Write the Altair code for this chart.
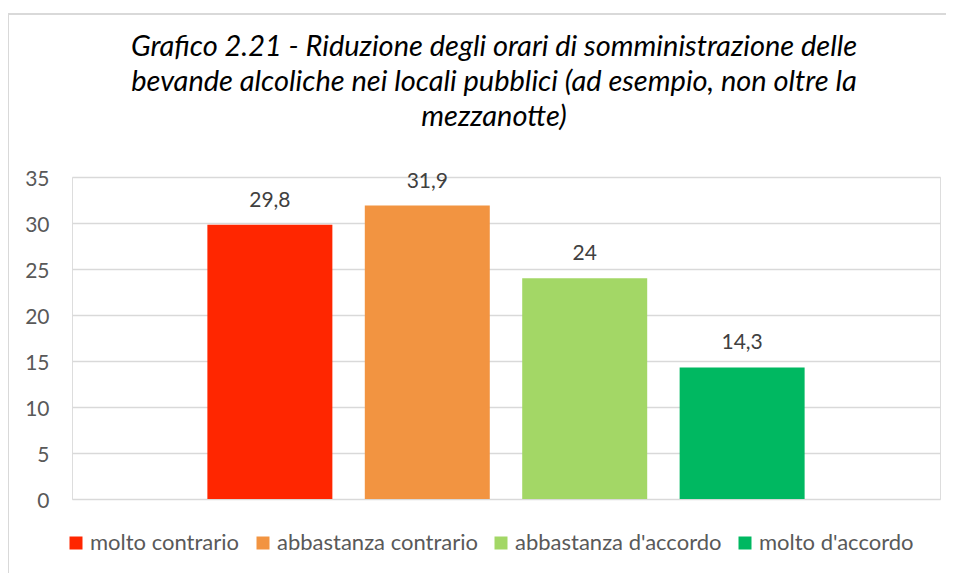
import altair as alt
import pandas as pd

categories = ["molto contrario", "abbastanza contrario", "abbastanza d'accordo", "molto d'accordo"]
values = [29.8, 31.9, 24, 14.3]
colors = ["#FF2600", "#F29441", "#A3D766", "#00B861"]
y_ticks = [0, 5, 10, 15, 20, 25, 30, 35]
title_lines = [
    "Grafico 2.21 - Riduzione degli orari di somministrazione delle",
    "bevande alcoliche nei locali pubblici (ad esempio, non oltre la",
    "mezzanotte)",
]

df = pd.DataFrame({"cat": categories, "val": values})
FONT = "Lato"

x_enc = alt.X("cat:N", sort=categories, axis=None,
              scale=alt.Scale(paddingInner=0.206, paddingOuter=0.86))

bars = alt.Chart(df).mark_bar().encode(
    x=x_enc,
    y=alt.Y("val:Q", scale=alt.Scale(domain=[0, 35]),
            axis=alt.Axis(values=y_ticks, title=None, domain=False, ticks=False,
                          labelFontSize=21, labelColor="#595959", labelFont=FONT,
                          labelPadding=23, labelOffset=2,
                          gridColor="#d9d9d9", gridWidth=1.3)),
    color=alt.Color("cat:N", sort=categories,
                    scale=alt.Scale(domain=categories, range=colors),
                    legend=alt.Legend(orient="none", legendX=-7, legendY=355, padding=0,
                                      direction="horizontal", title=None,
                                      symbolType="square", symbolSize=169, symbolStrokeWidth=0,
                                      labelFontSize=22, labelColor="#595959", labelFont=FONT,
                                      labelLimit=0, columnPadding=12, labelOffset=3)),
)

labels = alt.Chart(df).transform_calculate(
    lab="replace(format(datum.val, ''), '.', ',')"
).mark_text(dy=-18, baseline="alphabetic", fontSize=21, color="#404040", font=FONT).encode(
    x=x_enc,
    y="val:Q",
    text="lab:N",
)

frame_df = pd.DataFrame({"k": [0]})
frame_color = "#d9d9d9"
frame_top = alt.Chart(frame_df).mark_rule(color=frame_color, strokeWidth=2).encode(
    x=alt.value(-64), x2=alt.value(890), y=alt.value(-163))
frame_left = alt.Chart(frame_df).mark_rule(color=frame_color, strokeWidth=2).encode(
    x=alt.value(-64), y=alt.value(-163), y2=alt.value(410))
page_top = alt.Chart(frame_df).mark_rule(color=frame_color, strokeWidth=2).encode(
    x=alt.value(-80), x2=alt.value(890), y=alt.value(-176))

chart = alt.layer(frame_top, frame_left, page_top, bars, labels).properties(
    width=868, height=322,
    autosize="none",
    padding={"left": 64, "top": 169, "right": 6, "bottom": 74},
    title=alt.TitleParams(title_lines, fontSize=29, font=FONT, fontStyle="italic",
                          fontWeight="normal", color="#000000", lineHeight=35,
                          anchor="middle", dx=-12, offset=-132),
).resolve_scale(color="independent").configure_view(strokeWidth=0).configure(background="white")

chart.save("out.html", embed_options={"renderer": "svg", "actions": False})
